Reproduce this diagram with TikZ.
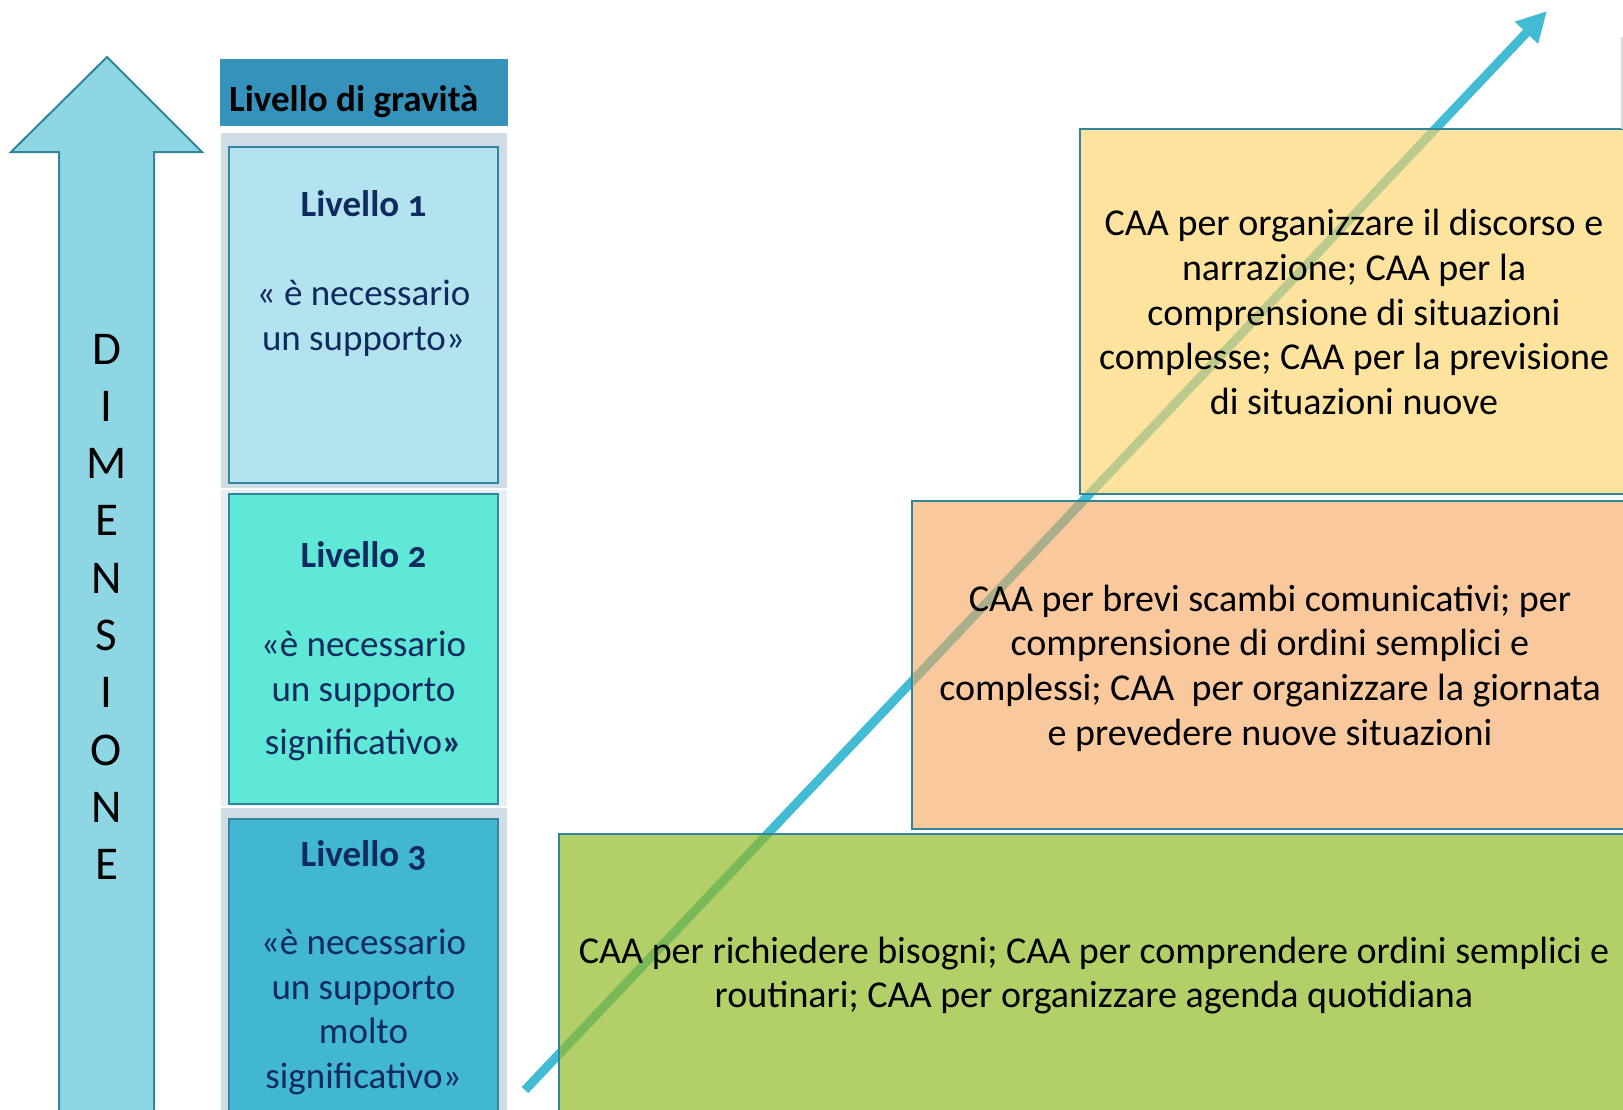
\documentclass[tikz,border=0pt]{standalone}
\usepackage{fontspec}
\setmainfont{Carlito}[Numbers=OldStyle]
\usetikzlibrary{arrows.meta}
\definecolor{teal1}{HTML}{31859C}
\definecolor{bigfill}{HTML}{8ED6E3}
\definecolor{hdr}{HTML}{3592BB}
\definecolor{rowA}{HTML}{CFDCE6}
\definecolor{rowB}{HTML}{E8EFF4}
\definecolor{lvA}{HTML}{B3E3EE}
\definecolor{lvB}{HTML}{5FE8D6}
\definecolor{lvC}{HTML}{41B7D1}
\definecolor{navy}{HTML}{0F2A5F}
\definecolor{yelbox}{HTML}{FDE39D}
\definecolor{orbox}{HTML}{F9C89D}
\definecolor{grbox}{HTML}{B3CF67}
\definecolor{cyanarrow}{HTML}{42BBD4}
\definecolor{arrY}{HTML}{BCCB8D}
\definecolor{arrO}{HTML}{A9AE8B}
\definecolor{arrG}{HTML}{7AB95A}
\begin{document}
\begin{tikzpicture}[x=1pt,y=-1pt,
  box/.style={draw=teal1, line width=2.5pt, outer sep=0pt, inner sep=0pt, anchor=north west},
  lvbox/.style={draw=teal1, line width=2pt, outer sep=0pt, inner sep=0pt, anchor=north west},
  rowbg/.style={fill=#1, draw=none, outer sep=0pt, inner sep=0pt, anchor=north west},
  lvtitle/.style={anchor=base, text=navy, font=\fontsize{37}{45}\selectfont\bfseries, inner sep=0pt},
  lvtext/.style={anchor=base, text=navy, font=\fontsize{37}{45}\selectfont, inner sep=0pt},
  caatext/.style={anchor=base, font=\fontsize{38}{45}\selectfont, inner sep=0pt},
  dimletter/.style={font=\fontsize{47}{50}\selectfont, inner sep=0pt},
  diag/.style={line width=9pt}]
\useasboundingbox (0,0) rectangle (1623,1109);
\fill[white] (0,0) rectangle (1623,1109);

% big vertical arrow
\draw[fill=bigfill, draw=teal1, line width=2pt]
  (59,1112) -- (59,152) -- (11,152) -- (107,57) -- (202,152) -- (154,152) -- (154,1112) -- cycle;
\foreach \l [count=\i] in {D,I,M,E,N,S,I,O,N,E}
  \node[dimletter] (dim\i) at (106.5,{349+57.3*(\i-1)}) {\l};

% left column
\node[rowbg=hdr, minimum width=288pt, minimum height=67pt] (hdr) at (220,59) {};
\node[anchor=base west, font=\fontsize{37}{40}\selectfont\bfseries, inner sep=0pt] (hdrtext) at (229,111) {Livello di gravità};
\node[rowbg=rowA, minimum width=286pt, minimum height=355pt] (row1) at (221,133) {};
\node[rowbg=rowB, minimum width=286pt, minimum height=316pt] (row2) at (221,490) {};
\node[rowbg=rowA, minimum width=286pt, minimum height=305pt] (row3) at (221,808) {};
\node[lvbox, fill=lvA, minimum width=269pt, minimum height=336pt] (lv1) at (229,147) {};
\node[lvbox, fill=lvB, minimum width=269pt, minimum height=310pt] (lv2) at (229,494) {};
\node[lvbox, fill=lvC, minimum width=269pt, minimum height=300pt] (lv3) at (229,819) {};

\node[lvtitle] (l1t) at (363.5,216) {Livello 1};
\node[lvtext] (l1a) at (363.5,305) {« è necessario};
\node[lvtext] (l1b) at (363.5,350) {un supporto»};

\node[lvtitle] (l2t) at (363.5,567) {Livello 2};
\node[lvtext] (l2a) at (363.5,656) {«è necessario};
\node[lvtext] (l2b) at (363.5,701) {un supporto};
\node[lvtext] (l2c) at (363.5,754) {significativo{\bfseries »}};

\node[lvtitle] (l3t) at (363.5,866) {Livello 3};
\node[lvtext] (l3a) at (363.5,954) {«è necessario};
\node[lvtext] (l3b) at (363.5,999) {un supporto};
\node[lvtext] (l3c) at (363.5,1043) {molto};
\node[lvtext] (l3d) at (363.5,1088) {significativo»};

% diagonal arrow (under the boxes)
\coordinate (tail) at (525,1090);
\coordinate (tip) at (1547,11);
\draw[diag, draw=cyanarrow, -{Triangle[length=30pt,width=30pt]}] (tail) -- (tip);

% right boxes
\node[box, fill=yelbox, minimum width=548pt, minimum height=365pt] (yel) at (1080,129) {};
\node[box, fill=orbox, minimum width=716pt, minimum height=328pt] (ora) at (912,501) {};
\node[box, fill=grbox, minimum width=1069pt, minimum height=285pt] (gre) at (559,834) {};

% arrow seen through the boxes
\foreach \b/\c in {yel/arrY, ora/arrO, gre/arrG}{
  \begin{scope}
    \clip ([shift={(1.3,1.3)}]\b.north west) rectangle ([shift={(-1.3,-1.3)}]\b.south east);
    \draw[diag, draw=\c] (tail) -- (tip);
  \end{scope}
}

% right-edge line
\draw[black!15, line width=2pt] (1621.5,37) -- (1621.5,129);

% texts
\foreach \t [count=\i] in {CAA per organizzare il discorso e, narrazione; CAA per la, comprensione di situazioni, complesse; CAA per la previsione, di situazioni nuove}
  \node[caatext] (ty\i) at (1354,{235.5+44.8*(\i-1)}) {\t};
\foreach \t [count=\i] in {CAA per brevi scambi comunicativi; per, comprensione di ordini semplici e, complessi; CAA\ \ per organizzare la giornata, e prevedere nuove situazioni}
  \node[caatext] (to\i) at (1270,{611+44.8*(\i-1)}) {\t};
\foreach \t [count=\i] in {CAA per richiedere bisogni; CAA per comprendere ordini semplici e, routinari; CAA per organizzare agenda quotidiana}
  \node[caatext] (tg\i) at (1094,{963+44.6*(\i-1)}) {\t};
\end{tikzpicture}
\end{document}
